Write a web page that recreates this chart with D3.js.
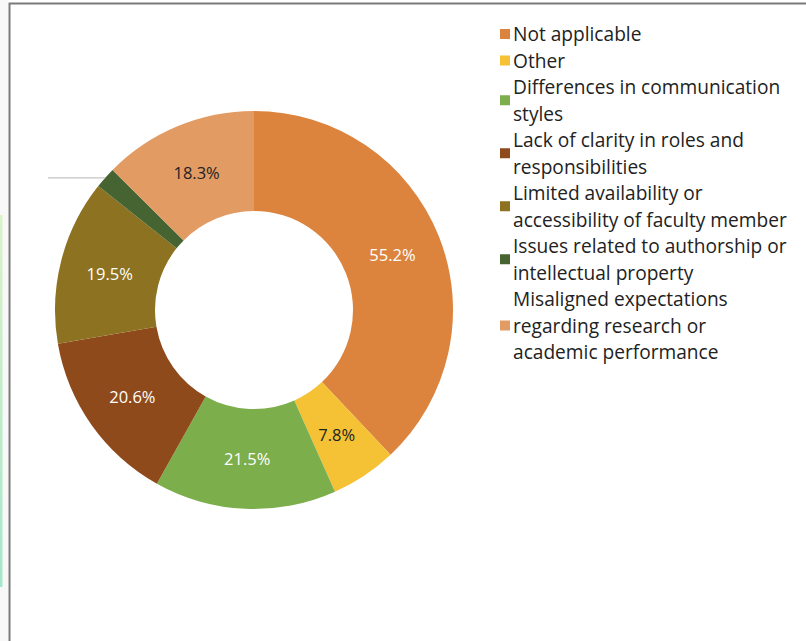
<!DOCTYPE html>
<html>
<head>
<meta charset="utf-8">
<script src="https://cdn.jsdelivr.net/npm/d3@7"></script>
<style>
  html, body { margin: 0; padding: 0; background: #fff; }
  svg { display: block; }
  text { font-family: "Open Sans", "Noto Sans", sans-serif; }
</style>
</head>
<body>
<svg id="chart" width="806" height="641"></svg>
<script>
// Reasons reported for problems in the student / faculty working relationship
const categories = [
  "Not applicable",
  "Other",
  "Differences in communication styles",
  "Lack of clarity in roles and responsibilities",
  "Limited availability or accessibility of faculty member",
  "Issues related to authorship or intellectual property",
  "Misaligned expectations regarding research or academic performance"
];
const values = [55.2, 7.8, 21.5, 20.6, 19.5, 2.5, 18.3];
const colors = ["#dc843e", "#f4c234", "#7cae4c", "#8f4a1c", "#8d7221", "#466431", "#e39b64"];
const labelColors = ["#ffffff", "#222222", "#ffffff", "#ffffff", "#ffffff", "#222222", "#222222"];
// Legend entries as they wrap in the legend column
const legendLines = [
  ["Not applicable"],
  ["Other"],
  ["Differences in communication", "styles"],
  ["Lack of clarity in roles and", "responsibilities"],
  ["Limited availability or", "accessibility of faculty member"],
  ["Issues related to authorship or", "intellectual property"],
  ["Misaligned expectations", "regarding research or", "academic performance"]
];

const svg = d3.select("#chart");

// Page edge strip and frame
const grad = svg.append("defs").append("linearGradient")
  .attr("id", "edge").attr("x1", 0).attr("y1", 0).attr("x2", 0).attr("y2", 1);
grad.append("stop").attr("offset", "0%").attr("stop-color", "#dcf2c8");
grad.append("stop").attr("offset", "100%").attr("stop-color", "#a6e6cc");
svg.append("rect").attr("x", 0).attr("y", 0).attr("width", 8).attr("height", 641).attr("fill", "#f8f8f8");
svg.append("rect").attr("x", 0).attr("y", 215).attr("width", 2.5).attr("height", 372).attr("fill", "url(#edge)");
svg.append("path")
  .attr("d", "M9.5,641 V3.5 H806")
  .attr("fill", "none").attr("stroke", "#7a7a7a").attr("stroke-width", 2);

// Donut
const cx = 254, cy = 310, outerR = 199, innerR = 99;
const pie = d3.pie().sort(null).value(d => d.value);
const arcs = pie(categories.map((c, i) => ({ name: c, value: values[i], i })));
const arc = d3.arc().innerRadius(innerR).outerRadius(outerR);
const labelArc = d3.arc().innerRadius(149).outerRadius(149);

const g = svg.append("g").attr("transform", `translate(${cx},${cy})`);
g.selectAll("path.slice").data(arcs).join("path")
  .attr("class", "slice")
  .attr("d", arc)
  .attr("fill", d => colors[d.data.i]);

// Percent labels inside the ring (the thin slice gets a leader line instead)
g.selectAll("text.pct").data(arcs.filter(d => d.data.value >= 5)).join("text")
  .attr("class", "pct")
  .attr("transform", d => `translate(${labelArc.centroid(d)})`)
  .attr("text-anchor", "middle")
  .attr("dominant-baseline", "central")
  .attr("font-size", 16.5)
  .attr("fill", d => labelColors[d.data.i])
  .text(d => d3.format(".1f")(d.data.value) + "%");

const small = arcs.filter(d => d.data.value < 5);
small.forEach(d => {
  const mid = (d.startAngle + d.endAngle) / 2;
  const px = Math.sin(mid) * outerR, py = -Math.cos(mid) * outerR;
  g.append("path")
    .attr("d", `M${px},${py} L${48 - cx},${py}`)
    .attr("fill", "none").attr("stroke", "#c4c4c4").attr("stroke-width", 1.3);
});

// Legend
const legend = svg.append("g");
const lineH = 26.5, lx = 513, top0 = 34;
const probe = legend.append("text").attr("font-size", 16).text("accessibility of faculty member");
const fs = 16 * 274 / probe.node().getComputedTextLength();
probe.remove();
let row = 0;
legendLines.forEach((lines, i) => {
  const midRow = row + (lines.length - 1) / 2;
  legend.append("rect")
    .attr("x", 500).attr("y", top0 + midRow * lineH - 5)
    .attr("width", 10).attr("height", 10)
    .attr("fill", colors[i]);
  lines.forEach((t, k) => {
    legend.append("text")
      .attr("x", lx).attr("y", top0 + (row + k) * lineH)
      .attr("dominant-baseline", "central")
      .attr("font-size", fs)
      .attr("fill", "#222")
      .text(t);
  });
  row += lines.length;
});
</script>
</body>
</html>
